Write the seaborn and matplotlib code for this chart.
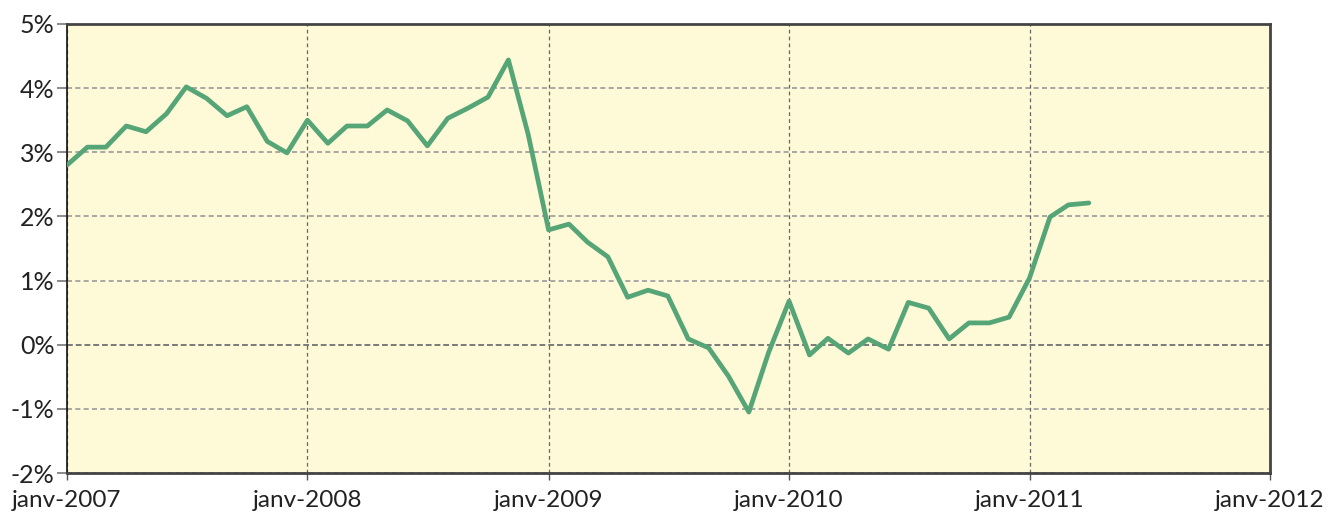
import pandas as pd
import matplotlib
matplotlib.use("Agg")
import matplotlib.pyplot as plt
import matplotlib.ticker as mticker
import seaborn as sns

# monthly values, janv-2007 .. avr-2011 (in %)
start_month = "2007-01-01"
values = [
    2.80, 3.08, 3.08, 3.41, 3.32, 3.60, 4.02, 3.84, 3.57, 3.71, 3.17, 2.99,
    3.50, 3.14, 3.41, 3.41, 3.66, 3.49, 3.10, 3.53, 3.69, 3.86, 4.44, 3.28,
    1.79, 1.88, 1.60, 1.37, 0.74, 0.85, 0.76, 0.09, -0.05, -0.49, -1.05, -0.12,
    0.68, -0.16, 0.10, -0.13, 0.09, -0.07, 0.66, 0.57, 0.09, 0.34, 0.34, 0.43,
    1.04, 1.99, 2.18, 2.21,
]
year_ticks = [2007, 2008, 2009, 2010, 2011, 2012]
tick_labels = [f"janv-{y}" for y in year_ticks]
y_ticks = [-2, -1, 0, 1, 2, 3, 4, 5]

df = pd.DataFrame({
    "date": pd.date_range(start_month, periods=len(values), freq="MS"),
    "value": values,
})

sns.set_style("white")
plt.rcParams["font.family"] = ["Lato", "DejaVu Sans"]

fig = plt.figure(figsize=(13.29, 5.17), dpi=100)
ax = fig.add_axes([0.0504, 0.0851, 0.9052, 0.8685])
ax.set_facecolor("#fef9d7")

# grid
for y in y_ticks:
    if y == 0:
        ax.axhline(y, color="#7a7a7a", lw=1.4, ls=(0, (3, 1.5)), zorder=1)
    else:
        ax.axhline(y, color="#9a9a9a", lw=1.2, ls=(0, (3, 2)), zorder=1)
xt = pd.to_datetime([f"{y}-01-01" for y in year_ticks])
for d in xt:
    ax.axvline(d, color="#666666", lw=0.9, ls=(0, (3, 2.5)), zorder=1)

sns.lineplot(data=df, x="date", y="value", color="#55a577", lw=3.4, ax=ax, zorder=3)

ax.set_xlim(xt[0], xt[-1])
ax.set_ylim(-2, 5)
ax.set_xticks(xt)
ax.set_xticklabels(tick_labels)
ax.set_yticks(y_ticks)
ax.yaxis.set_major_formatter(mticker.FuncFormatter(lambda v, p: f"{v:.0f}%"))
ax.set_xlabel("")
ax.set_ylabel("")

ax.tick_params(axis="y", length=7, width=1.2, color="#777777", pad=2,
               labelsize=18, labelcolor="#222222", left=True)
ax.tick_params(axis="x", length=5, width=1.0, color="#555555", pad=7,
               labelsize=17.5, labelcolor="#222222", bottom=True)

ax.spines["left"].set_color("#111111")
ax.spines["left"].set_linewidth(1.2)
for s in ["top", "right", "bottom"]:
    ax.spines[s].set_color("#444444")
    ax.spines[s].set_linewidth(2.0)
    ax.spines[s].set_visible(True)

fig.savefig("out.png", dpi=100)
